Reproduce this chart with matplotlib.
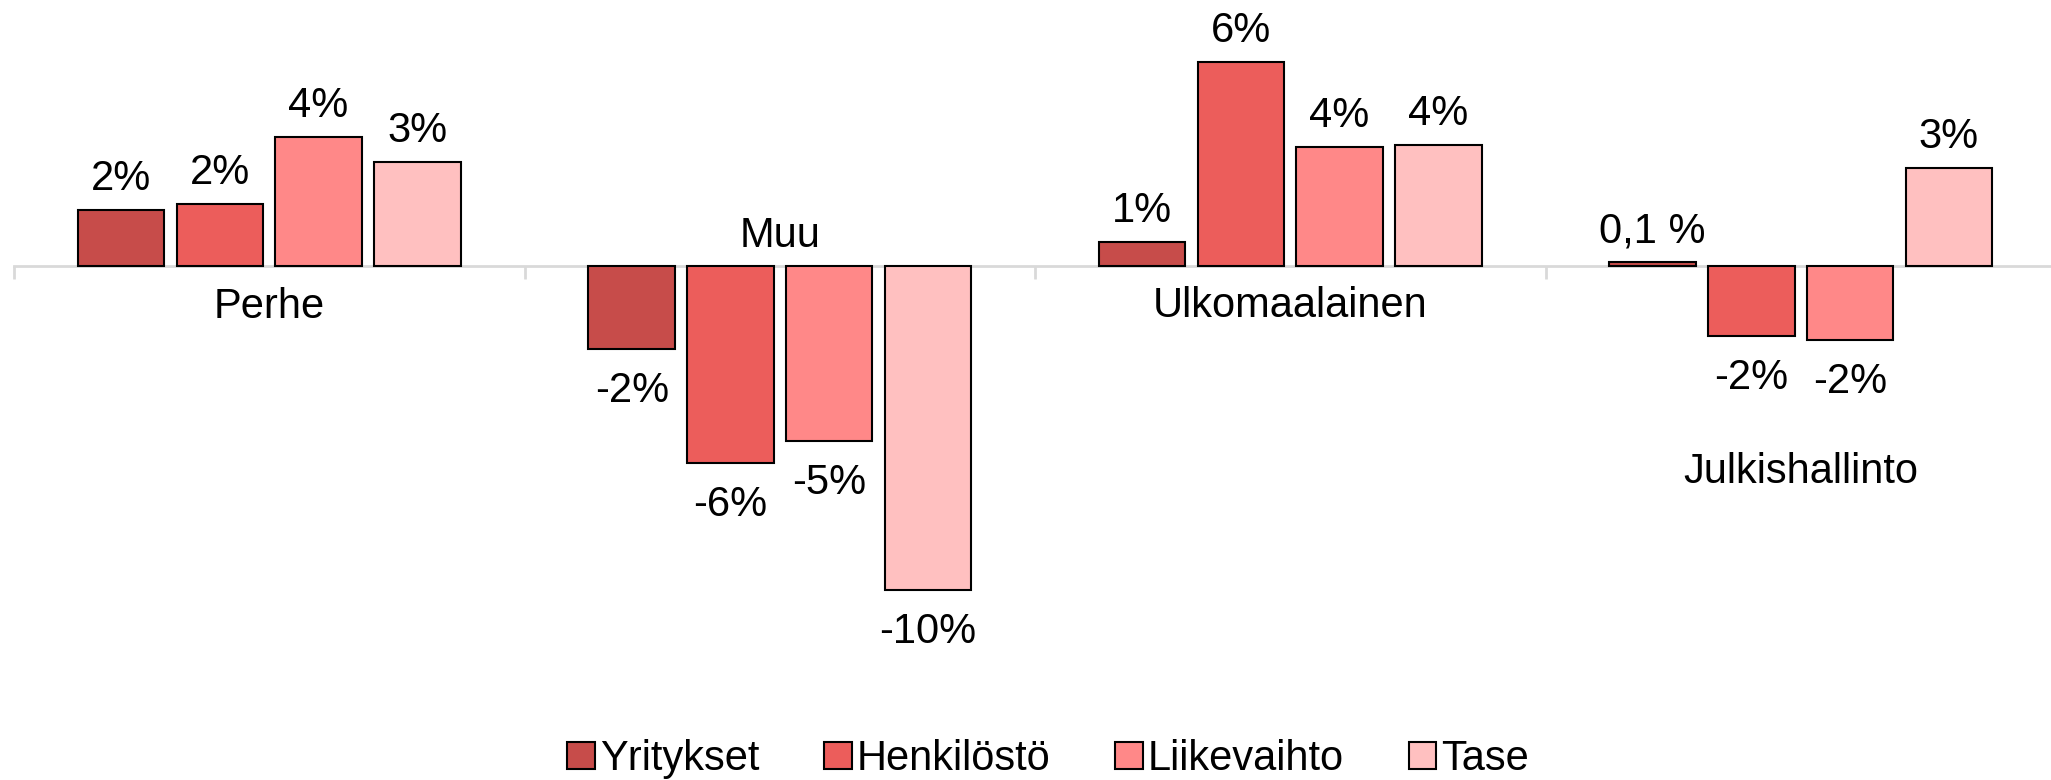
import numpy as np
import matplotlib
matplotlib.use("Agg")
import matplotlib.pyplot as plt

# ---- Data (%), luettu kuvasta ----
kategoriat = ['Perhe', 'Muu', 'Ulkomaalainen', 'Julkishallinto']
sarjat = ['Yritykset', 'Henkilöstö', 'Liikevaihto', 'Tase']

yritykset = [1.64, -2.48, 0.71, 0.1]
henkilosto = [1.84, -5.85, 6.04, -2.09]
liikevaihto = [3.83, -5.19, 3.53, -2.20]
tase = [3.08, -9.61, 3.57, 2.91]

# ---- Tyylit ----
varit = ['#C74C4A', '#EC5D5B', '#FF8888', '#FFC0C0']
kategoria_y = [-1.55, 0.56, -1.51, -6.46]   # kategorian nimen baseline (data-yksikkö)

plt.rcParams['font.family'] = ['Liberation Sans', 'DejaVu Sans']
plt.rcParams['font.size'] = 30


def muotoile(v):
    # pienet arvot yhdellä desimaalilla, muut kokonaislukuina
    if abs(v) < 0.5:
        return f"{v:.1f} %".replace('.', ',')
    return f"{v:.0f}%"


def piirra():
    W, H, dpi = 2051, 780, 100
    fig = plt.figure(figsize=(W / dpi, H / dpi), dpi=dpi)

    px_per_pct = 33.7
    zero_px = 265.7
    left_px = 14
    cat_w = 510.5

    ax = fig.add_axes([left_px / W, 0, 4 * cat_w / W, 1])
    ax.set_xlim(-0.5, 3.5)
    ax.set_ylim(-(H - zero_px) / px_per_pct, zero_px / px_per_pct)

    x = np.arange(len(kategoriat))
    pitch = 0.1933
    leveys = 0.1694
    data = [yritykset, henkilosto, liikevaihto, tase]

    for i, (nimi, arvot, vari) in enumerate(zip(sarjat, data, varit)):
        xs = x + (i - 1.5) * pitch
        ax.bar(xs, arvot, width=leveys, color=vari, edgecolor='black',
               linewidth=1.5, label=nimi, zorder=3)
        for xi, v in zip(xs, arvot):
            if v >= 0:
                ax.annotate(muotoile(v), (xi, v), xytext=(0, 20),
                            textcoords='offset pixels', ha='center', va='baseline')
            else:
                ax.annotate(muotoile(v), (xi, v), xytext=(0, -53),
                            textcoords='offset pixels', ha='center', va='baseline')

    # kategorioiden nimet
    for xi, nimi, yy in zip(x, kategoriat, kategoria_y):
        ax.text(xi, yy, nimi, ha='center', va='baseline')

    # akseli nollassa, tikit kategorioiden rajoilla
    for s in ['top', 'left', 'right']:
        ax.spines[s].set_visible(False)
    ax.spines['bottom'].set_position(('data', 0))
    ax.spines['bottom'].set_color('#D9D9D9')
    ax.spines['bottom'].set_linewidth(2)
    ax.spines['bottom'].set_zorder(1)
    ax.set_xticks(np.arange(-0.5, 4, 1))
    ax.tick_params(axis='x', length=9.5, width=2, color='#D9D9D9',
                   direction='out', labelbottom=False)
    ax.set_yticks([])

    fig.legend(loc='center', bbox_to_anchor=(1048 / W, 21 / H), ncol=4,
               frameon=False, fontsize=30, handlelength=0.67, handleheight=0.62,
               handletextpad=0.12, columnspacing=1.55, borderaxespad=0)

    fig.savefig('out.png', dpi=dpi)


piirra()
